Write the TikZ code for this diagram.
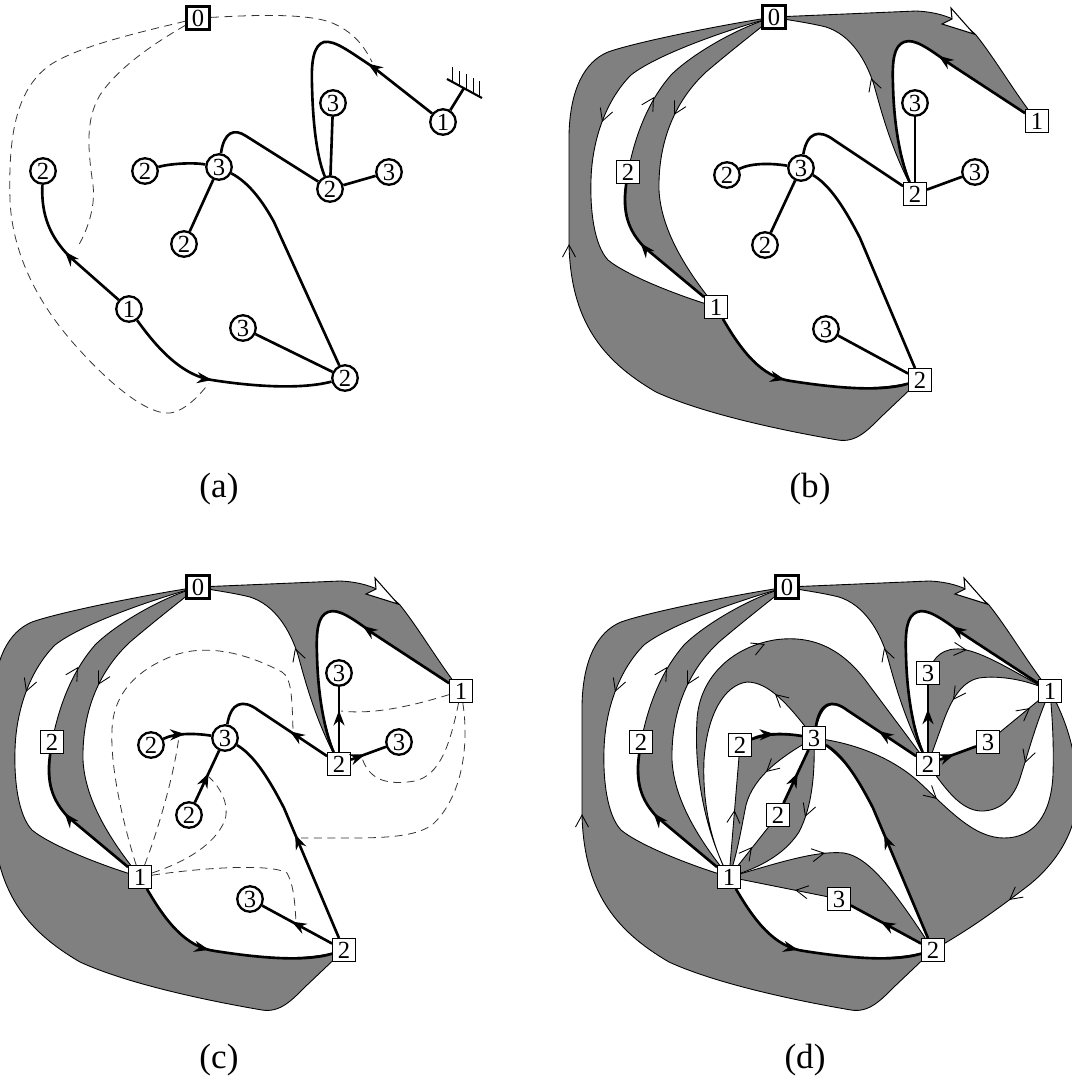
\documentclass[tikz,border=0pt]{standalone}
\usepackage{fontspec}
\setmainfont{Liberation Serif}
\usetikzlibrary{arrows.meta, decorations.markings, backgrounds}

\tikzset{
  circ/.style={circle, draw, line width=1.3pt, fill=white, minimum size=5.1mm, inner sep=0pt, font=\fontsize{14}{14}\selectfont},
  sqbox/.style={rectangle, draw, line width=0.5pt, fill=white, minimum size=4.6mm, inner sep=0pt, font=\fontsize{14}{14}\selectfont},
  rootbox/.style={sqbox, line width=1.5pt},
  tree/.style={line width=1.5pt},
  arrowat/.style={postaction={decorate}, decoration={markings, mark=at position #1 with {\arrow{Stealth[length=3mm,width=2.2mm]}}}},
  band/.style={fill=black!50, draw=black, line width=0.5pt},
  barb/.style={decorate, decoration={markings, mark=at position 0.99 with {\arrow{Straight Barb[length=2.4mm,width=2.6mm,line width=0.5pt]}}}},
  tour/.style={draw=black!80, line width=0.45pt, dash pattern=on 1.6mm off 1.1mm},
  panel/.style={font=\fontsize{20}{24}\selectfont}
}

% the tree of panels (b)-(d); #2 = style of the nodes not yet visited
\newcommand{\basenodes}[2]{%
  \node[rootbox] (#1root) at (198,17) {0};
  \node[sqbox] (#1left1) at (140,307) {1};
  \node[sqbox] (#1far2) at (52,172) {2};
  \node[sqbox] (#1low2) at (344,380) {2};
  \node[sqbox] (#1right2) at (339,194) {2};
  \node[sqbox] (#1right1) at (461,121) {1};
  \node[#2] (#1low3) at (250,329) {3};
  \node[#2] (#1mid3) at (225,168) {3};
  \node[#2] (#1mid2l) at (151,175) {2};
  \node[#2] (#1mid2d) at (189,245) {2};
  \node[#2] (#1top3) at (339,103) {3};
  \node[#2] (#1side3) at (399,172) {3};
}

% tree edges; "seen" puts the arrow on the inner edges
\newcommand{\treeedges}[1]{%
  \draw[tree, arrowat=0.36] (#1right1) -- (374,64) .. controls (352,48) and (338,38) .. (328,42)
    .. controls (318,46) and (316,60) .. (317,85) .. controls (318,130) and (326,165) .. (#1right2);
  \draw[tree, arrowat=0.42] (#1left1) .. controls (165,350) and (185,377) .. (215,381)
    .. controls (260,388) and (305,392) .. (#1low2);
  \draw[tree, arrowat=0.57] (#1left1) -- (68,247) .. controls (52,230) and (46,212) .. (#1far2);
  \draw[tree, seen=0.64] (#1right2) -- (#1top3);
  \draw[tree, seen=0.4] (#1right2) -- (#1side3);
  \draw[tree, seen=0.35] (#1right2) -- (258,140) .. controls (243,129) and (231,132) .. (#1mid3);
  \draw[tree, seen=0.46] (#1mid2l) .. controls (175,163) and (195,163) .. (#1mid3);
  \draw[tree, seen=0.57] (#1mid2d) -- (#1mid3);
  \draw[tree, seen=0.51] (#1low2) -- (284,238) .. controls (266,203) and (252,184) .. (#1mid3);
  \draw[tree, seen=0.58] (#1low2) -- (#1low3);
}

% the three ribbons from the root
\newcommand{\outerbands}[1]{%
  \filldraw[band] (#1root.center) .. controls (150,24) and (60,42) .. (32,52)
    .. controls (8,62) and (-6,90) .. (-7,135) -- (-7,245)
    .. controls (-5,320) and (25,360) .. (80,392)
    .. controls (130,415) and (215,432) .. (262,440)
    .. controls (280,443) and (292,430) .. (305,417) -- (#1low2.center)
    .. controls (305,392) and (260,388) .. (215,381)
    .. controls (185,377) and (165,350) .. (#1left1.center)
    .. controls (100,295) and (50,275) .. (32,260)
    .. controls (18,245) and (14,210) .. (15,180)
    .. controls (16,140) and (30,100) .. (55,75)
    .. controls (80,55) and (150,30) .. (#1root.center) -- cycle;
  \filldraw[band] (#1root.center) .. controls (160,28) and (115,55) .. (95,75)
    .. controls (75,98) and (60,130) .. (#1far2.center)
    .. controls (46,212) and (52,230) .. (68,247) -- (#1left1.center)
    .. controls (110,270) and (85,230) .. (83,190)
    .. controls (82,140) and (100,100) .. (130,72)
    .. controls (150,55) and (175,35) .. (#1root.center) -- cycle;
  \filldraw[band] (#1root.center) -- (340,11) .. controls (365,12) and (385,20) .. (400,35)
    .. controls (420,60) and (440,95) .. (#1right1.center) -- (374,64)
    .. controls (352,48) and (338,38) .. (328,42)
    .. controls (318,46) and (316,60) .. (317,85)
    .. controls (318,130) and (326,165) .. (#1right2.center)
    .. controls (315,150) and (305,110) .. (298,85)
    .. controls (290,60) and (275,35) .. (250,27)
    .. controls (230,22) and (210,20) .. (#1root.center) -- cycle;
  \path[barb] (30,111) -- (26,122);
  \path[barb] (72,107) -- (78,97);
  \path[barb] (104,104) -- (98,115);
  \path[barb] (299,90) -- (295,78);
  \path[barb] (-7,256) -- (-7,244);
  \filldraw[fill=white, line width=0.6pt] (366,24) -- (376,19) -- (375,8) -- (398,34) -- cycle;
}

\begin{document}
\begin{tikzpicture}[x=0.2mm, y=-0.2mm]
\useasboundingbox (0,0) rectangle (1072,1086);
\clip (0,0) rectangle (1072,1086);

% (a) the tree with its ground
\begin{scope}
  \node[rootbox] (a-root) at (198,18) {0};
  \node[circ] (a-left1) at (129,309) {1};
  \node[circ] (a-far2) at (43,171) {2};
  \node[circ] (a-low2) at (345,378) {2};
  \node[circ] (a-low3) at (243,328) {3};
  \node[circ] (a-mid3) at (219,167) {3};
  \node[circ] (a-mid2l) at (145,171) {2};
  \node[circ] (a-mid2d) at (184,244) {2};
  \node[circ] (a-right2) at (330,189) {2};
  \node[circ] (a-top3) at (333,103) {3};
  \node[circ] (a-side3) at (389,172) {3};
  \node[circ] (a-right1) at (443,122) {1};
  \coordinate (a-ground) at (464,88);
  \coordinate (a-at-low2) at (209,383);
  \coordinate (a-at-far2) at (77,248);
  \coordinate (a-at-right2) at (372,62);

  \draw[tree, arrowat=0.3] (a-right1) -- (373,67) .. controls (350,52) and (335,40) .. (324,42)
    .. controls (314,45) and (311,60) .. (312,85) .. controls (313,130) and (318,160) .. (a-right2);
  \draw[tree] (a-right2) -- (a-top3);
  \draw[tree] (a-right2) -- (a-side3);
  \draw[tree] (a-right2) -- (246,136) .. controls (234,128) and (224,132) .. (a-mid3);
  \draw[tree] (a-mid2l) .. controls (168,164) and (192,162) .. (a-mid3);
  \draw[tree] (a-mid2d) -- (a-mid3);
  \draw[tree] (a-mid3) .. controls (248,182) and (262,200) .. (274,222) -- (a-low2);
  \draw[tree] (a-low2) -- (a-low3);
  \draw[tree, arrowat=0.45] (a-left1) .. controls (155,345) and (180,375) .. (212,380)
    .. controls (250,386) and (300,390) .. (a-low2);
  \draw[tree, arrowat=0.5] (a-left1) -- (70,257) .. controls (50,237) and (41,215) .. (a-far2);

  % ground
  \draw[tree] (a-right1) -- (a-ground);
  \draw[line width=1.2pt] (447,79) -- (482,98);
  \foreach \x in {452,459,466,473,479}
    \draw[line width=0.5pt] (\x,{79+0.543*(\x-447)}) -- ++(0,-15);

  % tours from the root
  \draw[tour] (a-root) .. controls (150,30) and (80,45) .. (50,65) .. controls (18,88) and (8,130) .. (10,200)
    .. controls (12,250) and (35,300) .. (75,345) .. controls (115,390) and (150,415) .. (170,413)
    .. controls (185,411) and (200,395) .. (a-at-low2);
  \draw[tour] (a-root) .. controls (160,40) and (120,65) .. (100,95) .. controls (85,120) and (88,150) .. (93,185)
    .. controls (96,210) and (85,235) .. (a-at-far2);
  \draw[tour] (a-root) .. controls (240,16) and (300,12) .. (330,22) .. controls (355,32) and (365,48) .. (a-at-right2);

  \node[panel] (lab-a) at (219,489) {(a)};
\end{scope}

% (b)
\begin{scope}[shift={(576,0)}, seen/.style={}]
  \basenodes{b-}{circ}
  \begin{scope}[on background layer]
    \outerbands{b-}
  \end{scope}
  \treeedges{b-}
\end{scope}
\node[panel] (lab-b) at (810,489) {(b)};

% (c)
\begin{scope}[shift={(0,570)}, seen/.style={arrowat=#1}]
  \basenodes{c-}{circ}
  \begin{scope}[on background layer]
    \outerbands{c-}
  \end{scope}
  \treeedges{c-}
  \coordinate (c-at-top3) at (341,141);
  \coordinate (c-at-side3) at (362,188);
  \coordinate (c-at-low2) at (301,268);
  \coordinate (c-at-mid3) at (293,160);
  \coordinate (c-at-mid2l) at (179,166);
  \coordinate (c-at-mid2d) at (209,207);
  \coordinate (c-at-low3) at (296,352);
  % tours from the two 1
  \draw[tour] (c-right1) .. controls (415,135) and (375,145) .. (c-at-top3);
  \draw[tour] (c-right1) .. controls (450,175) and (440,205) .. (415,211) .. controls (390,215) and (370,212) .. (c-at-side3);
  \draw[tour] (c-right1) .. controls (470,180) and (460,230) .. (432,255) .. controls (410,270) and (370,268) .. (c-at-low2);
  \draw[tour] (c-left1) .. controls (125,260) and (110,200) .. (112,160) .. controls (113,125) and (135,100) .. (175,85)
    .. controls (210,73) and (250,85) .. (282,102) .. controls (292,108) and (292,130) .. (c-at-mid3);
  \draw[tour] (c-left1) .. controls (160,255) and (175,200) .. (c-at-mid2l);
  \draw[tour] (c-left1) .. controls (185,292) and (215,275) .. (225,250) .. controls (230,232) and (218,215) .. (c-at-mid2d);
  \draw[tour] (c-left1) .. controls (200,298) and (270,293) .. (287,303) .. controls (294,315) and (295,335) .. (c-at-low3);
\end{scope}
\node[panel] (lab-c) at (219,1060) {(c)};

% (d)
\begin{scope}[shift={(589,570)}, seen/.style={arrowat=#1}]
  \basenodes{d-}{sqbox}
  \begin{scope}[on background layer]
    \outerbands{d-}
    % ribbon over the middle 3
    \filldraw[band] (d-left1.center) .. controls (115,260) and (105,200) .. (108,150)
      .. controls (110,110) and (140,78) .. (185,70) .. controls (225,64) and (255,80) .. (280,115)
      -- (d-right2.center) -- (258,140) .. controls (243,129) and (231,132) .. (d-mid3.center)
      .. controls (200,135) and (180,112) .. (158,112) .. controls (135,115) and (118,145) .. (115,190)
      .. controls (113,240) and (125,280) .. (d-left1.center) -- cycle;
    \filldraw[band] (d-left1.center) -- (d-mid2l.center) .. controls (175,163) and (195,163) .. (d-mid3.center)
      .. controls (195,185) and (165,205) .. (157,235) .. controls (152,260) and (148,285) .. (d-left1.center) -- cycle;
    \filldraw[band] (d-left1.center) -- (d-mid2d.center) -- (d-mid3.center)
      .. controls (226,200) and (224,235) .. (210,262) .. controls (195,285) and (170,298) .. (d-left1.center) -- cycle;
    \filldraw[band] (d-left1.center) .. controls (180,296) and (225,280) .. (255,283)
      .. controls (280,287) and (305,320) .. (d-low2.center) -- (d-low3.center) -- (d-left1.center) -- cycle;
    % ribbon on the right
    \filldraw[band] (d-low2.center) -- (284,238) .. controls (266,203) and (252,184) .. (d-mid3.center)
      .. controls (260,172) and (300,185) .. (330,212) .. controls (360,240) and (385,268) .. (415,268)
      .. controls (445,268) and (462,245) .. (464,205) .. controls (465,170) and (463,145) .. (d-right1.center)
      .. controls (478,150) and (490,190) .. (488,230) .. controls (486,265) and (465,295) .. (440,315)
      .. controls (410,338) and (380,360) .. (d-low2.center) -- cycle;
    \filldraw[band] (d-top3.center) .. controls (345,85) and (355,78) .. (372,79)
      .. controls (395,82) and (425,102) .. (d-right1.center) .. controls (440,110) and (410,105) .. (390,108)
      .. controls (370,112) and (360,135) .. (352,158) -- (d-right2.center) -- (d-top3.center) -- cycle;
    \filldraw[band] (d-right2.center) -- (d-side3.center) -- (d-right1.center)
      .. controls (448,150) and (440,180) .. (432,205) .. controls (425,230) and (410,240) .. (395,241)
      .. controls (375,242) and (360,225) .. (d-right2.center) -- cycle;
  \end{scope}
  \path[barb] (164,79) -- (176,74);
  \path[barb] (195,132) -- (186,124);
  \path[barb] (144.5,252) -- (145.5,240);
  \path[barb] (186,194) -- (177,202);
  \path[barb] (156,286) -- (163,277);
  \path[barb] (220,236) -- (216,247);
  \path[barb] (224,285) -- (236,283);
  \path[barb] (218,322) -- (206,320);
  \path[barb] (339,221) -- (348,229);
  \path[barb] (429,323) -- (420,330);
  \path[barb] (366,79) -- (378,80);
  \path[barb] (371,120) -- (364,130);
  \path[barb] (440,181) -- (436,193);
  \path[barb] (432,145) -- (441,138);
  \treeedges{d-}
\end{scope}
\node[panel] (lab-d) at (805,1060) {(d)};

\end{tikzpicture}
\end{document}
